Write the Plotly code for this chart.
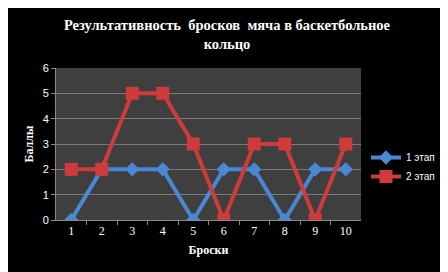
import plotly.graph_objects as go

categories = [1, 2, 3, 4, 5, 6, 7, 8, 9, 10]
stage1 = [0, 2, 2, 2, 0, 2, 2, 0, 2, 2]
stage2 = [2, 2, 5, 5, 3, 0, 3, 3, 0, 3]
series_names = ["1 этап", "2 этап"]
title_text = "Результативность  бросков  мяча в баскетбольное<br>кольцо"
x_title = "Броски"
y_title = "Баллы"

# page body has an 8px margin, so the figure starts at (8, 8) in the window
OFF = 8
W, H = 448 - OFF, 272 - OFF
L, R, T, B = 56 - OFF, 448 - 361, 68 - OFF, 272 - 220

fig = go.Figure()
fig.add_trace(go.Scatter(
    x=categories, y=stage1, name=series_names[0], mode="lines+markers",
    line=dict(color="#4a88d4", width=4),
    marker=dict(symbol="diamond", size=11, color="#4a88d4"),
))
fig.add_trace(go.Scatter(
    x=categories, y=stage2, name=series_names[1], mode="lines+markers",
    line=dict(color="#cf3b3b", width=4),
    marker=dict(symbol="square", size=13, color="#cf3b3b"),
))

fig.update_layout(
    width=W, height=H,
    margin=dict(l=L, r=R, t=T, b=B, autoexpand=False),
    paper_bgcolor="black",
    plot_bgcolor="#3f3f3f",
    title=dict(
        text="<b>" + title_text + "</b>",
        font=dict(family="Liberation Serif", size=14.5, color="white"),
        x=(227 - OFF) / W, xref="container", xanchor="center",
        y=1 - (30 - OFF) / H, yref="container", yanchor="top",
    ),
    showlegend=True,
    legend=dict(
        x=(366 - OFF) / W, y=1 - (143 - OFF) / H, xref="container", yref="container",
        xanchor="left", yanchor="top",
        font=dict(family="Liberation Sans", size=10, color="white"),
        bgcolor="rgba(0,0,0,0)", itemwidth=30, tracegroupgap=4,
    ),
    xaxis=dict(
        range=[0.5, 10.5], tickvals=categories, ticktext=[str(c) for c in categories],
        showgrid=False, zeroline=False,
        showline=True, linecolor="#8a8a8a", linewidth=1,
        ticks="", tickfont=dict(family="Liberation Serif", size=12, color="white"),
        minor=dict(tickvals=[c + 0.5 for c in categories[:-1]], ticks="outside", ticklen=4, tickcolor="#8a8a8a"),
        title=dict(text="<b>" + x_title + "</b>", font=dict(family="Liberation Serif", size=12, color="white"), standoff=8),
        fixedrange=True,
    ),
    yaxis=dict(
        range=[0, 6], dtick=1,
        showgrid=True, gridcolor="#7a7a7a", gridwidth=1, zeroline=False,
        showline=True, linecolor="#8a8a8a", linewidth=1,
        ticks="outside", ticklen=4, tickcolor="#8a8a8a",
        tickfont=dict(family="Liberation Sans", size=11, color="white"),
        title=dict(text="<b>" + y_title + "</b>", font=dict(family="Liberation Serif", size=12, color="white"), standoff=6),
        fixedrange=True,
    ),
)

fig.write_html("out.html")
